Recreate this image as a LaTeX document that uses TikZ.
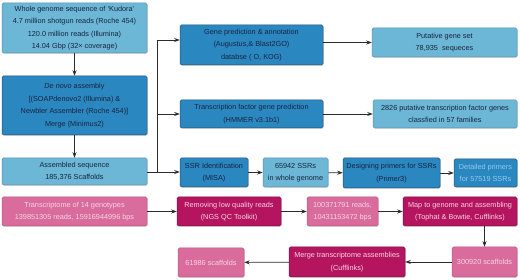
\documentclass[tikz,border=0pt]{standalone}
\usepackage{fontspec}
\setmainfont{Liberation Sans}
\usetikzlibrary{arrows.meta,shadows}
\definecolor{lblue}{HTML}{6CB6D6}
\definecolor{lblueb}{HTML}{5A8FAE}
\definecolor{mblue}{HTML}{2B87C0}
\definecolor{mblueb}{HTML}{1E4F78}
\definecolor{lpink}{HTML}{D96C9C}
\definecolor{lpinkb}{HTML}{B9557F}
\definecolor{dpink}{HTML}{B5145F}
\definecolor{dpinkb}{HTML}{7E0C40}
\definecolor{navy}{HTML}{18253F}
\definecolor{ptext}{HTML}{F6D6E4}
\definecolor{ltxt}{HTML}{8FCBEF}
\definecolor{arr}{HTML}{2B2B2B}
\begin{document}
\begin{tikzpicture}[x=1pt,y=-1pt,
  box/.style={rounded corners=1.5pt, align=center, inner sep=0pt, font=\fontsize{7.3}{12.5}\selectfont,
    drop shadow={shadow xshift=0.6pt,shadow yshift=-0.8pt,opacity=0.35}},
  lb/.style={box, fill=lblue, draw=lblueb, line width=0.5pt, text=navy},
  mb/.style={box, fill=mblue, draw=mblueb, line width=0.5pt, text=navy},
  lp/.style={box, fill=lpink, draw=lpinkb, line width=0.5pt, text=ptext},
  dp/.style={box, fill=dpink, draw=dpinkb, line width=0.5pt, text=ptext},
  con/.style={draw=arr, line width=0.7pt, -{Stealth[length=5.5pt,width=4pt]}},
  ln/.style={draw=arr, line width=0.7pt}]
\useasboundingbox (0,0) rectangle (520,280);
\fill[white] (0,0) rectangle (520,280);

\node[lb, minimum width=145, minimum height=50] (A) at (74.5,28) {Whole genome sequence of `Kudora'\\4.7 million shotgun reads (Roche 454)\\120.0 million reads (Illumina)\\14.04 Gbp (32× coverage)};
\node[mb, minimum width=145, minimum height=59] (B) at (74.5,105.5) {\textit{De novo} assembly\\{}[(SOAPdenovo2 (Illumina) \&\\Newbler Assembler (Roche 454)]\\Merge (Minimus2)};
\node[lb, minimum width=145, minimum height=27] (C) at (74.5,171.5) {Assembled sequence\\185,376 Scaffolds};

\node[mb, minimum width=143, minimum height=40] (G) at (251.5,45) {Gene prediction \& annotation\\(Augustus,\& Blast2GO)\\databse ( O, KOG)};
\node[lb, minimum width=145, minimum height=29] (P) at (444.5,42.5) {Putative gene set\\78,935\ \ sequeces};
\node[mb, minimum width=143, minimum height=28] (T) at (251.5,114) {Transcription factor gene prediction\\(HMMER v3.1b1)};
\node[lb, minimum width=144, minimum height=28] (F) at (445,114) {2826 putative transcription factor genes\\classfied in 57 families};

\node[mb, minimum width=68, minimum height=29] (S1) at (214,172.5) {SSR Identification\\(MISA)};
\node[lb, minimum width=65, minimum height=29] (S2) at (295.5,172.5) {65942 SSRs\\in whole genome};
\node[mb, minimum width=97, minimum height=30] (S3) at (391.5,173) {Designing primers for SSRs\\(Primer3)};
\node[mb, minimum width=63, minimum height=28, text=ltxt] (S4) at (485.5,173) {Detailed primers\\for 57519 SSRs};

\node[lp, minimum width=145, minimum height=29] (R1) at (74.5,211.5) {Transcriptome of 14 genotypes\\139851305 reads, 15916944996 bps};
\node[dp, minimum width=104, minimum height=29] (R2) at (229,211.5) {Removing low quality reads\\(NGS QC Toolkit)};
\node[lp, minimum width=71, minimum height=29] (R3) at (342.5,211.5) {100371791 reads,\\10431153472 bps};
\node[dp, minimum width=114, minimum height=29] (R4) at (460,211.5) {Map to genome and assembling\\(Tophat \& Bowtie, Cufflinks)};
\node[lp, minimum width=65, minimum height=30] (R5) at (484.5,262) {300920 scaffolds};
\node[dp, minimum width=116, minimum height=30] (R6) at (347,262) {Merge transcriptome assemblies\\(Cufflinks)};
\node[lp, minimum width=66, minimum height=29] (R7) at (211,262.5) {61986 scaffolds};

\coordinate (tb) at (157,172);
\coordinate (tt) at (157,40);
\coordinate (tm) at (157,114);

\draw[con] (A) -- (B);
\draw[con] (B) -- (C);
\draw[con] (C.east |- tb) -- (S1.west |- tb);
\draw[ln] (tb) -- (tt);
\draw[con] (tt) -- (G.west |- tt);
\draw[con] (tm) -- (T.west |- tm);
\draw[con] (G.east |- P.west) -- (P.west);
\draw[con] (T) -- (F);
\draw[con] (S1) -- (S2);
\draw[con] (S2) -- (S3);
\draw[con] (S3) -- (S4);
\draw[con] (R1) -- (R2);
\draw[con] (R2) -- (R3);
\draw[con] (R3) -- (R4);
\draw[con] (R4.south -| R5) -- (R5);
\draw[con] (R5) -- (R6);
\draw[con] (R6) -- (R7);
\end{tikzpicture}
\end{document}
